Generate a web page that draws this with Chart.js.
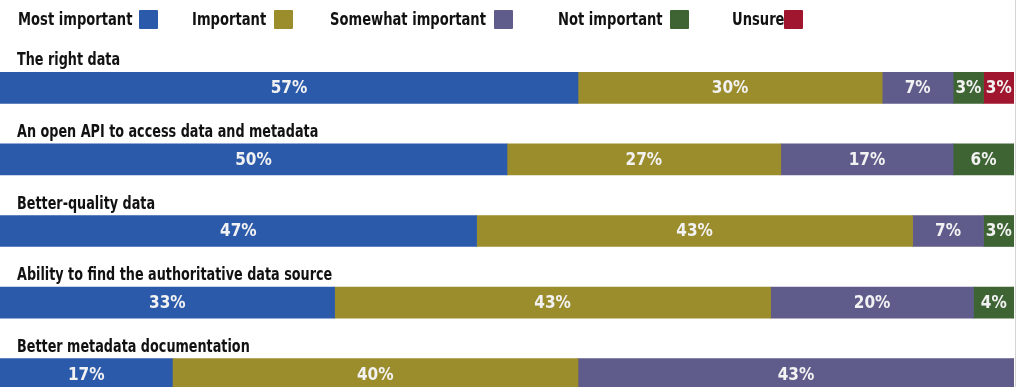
<!DOCTYPE html>
<html>
<head>
<meta charset="utf-8">
<script src="https://cdn.jsdelivr.net/npm/chart.js@4/dist/chart.umd.min.js"></script>
<style>
  html, body { margin: 0; padding: 0; background: #fff; overflow: hidden; }
  body { width: 1025px; height: 387px; position: relative; font-family: "Liberation Sans Narrow", "DejaVu Sans Condensed", sans-serif; }
  #wrap { position: absolute; left: 0; top: 0; width: 1025px; height: 410px; }
  #legend { position: absolute; left: 0; top: 0; height: 38px; width: 1025px; z-index: 2; }
  .txt { position: absolute; top: 8px; font-weight: bold; font-size: 18px; color: #111; white-space: nowrap; line-height: 22px; transform: scaleX(0.81); transform-origin: 0 0; }
  .box { position: absolute; top: 10px; width: 19px; height: 19px; border-radius: 1px; }
  #rule { position: absolute; left: 1015px; top: 0; width: 1px; height: 387px; background: #d4d4d4; }
</style>
</head>
<body>
<div id="legend"></div>
<div id="rule"></div>
<div id="wrap"><canvas id="myChart"></canvas></div>
<script>
const categories = [
    'The right data',
    'An open API to access data and metadata',
    'Better-quality data',
    'Ability to find the authoritative data source',
    'Better metadata documentation'
];
const seriesNames = ['Most important', 'Important', 'Somewhat important', 'Not important', 'Unsure'];
const mostImportant = [57, 50, 47, 33, 17];
const important = [30, 27, 43, 43, 40];
const somewhatImportant = [7, 17, 7, 20, 43];
const notImportant = [3, 6, 3, 4, 0];
const unsure = [3, 0, 0, 0, 0];
const colors = ['#2b5aab', '#9b8c2c', '#5f5b8b', '#3e6434', '#a0162f'];

const legendLeft = [18, 192, 330, 558, 732];
const boxLeft = [139, 274, 494, 670, 784];

const legend = document.getElementById('legend');
seriesNames.forEach((name, i) => {
    const t = document.createElement('div');
    t.className = 'txt';
    t.style.left = legendLeft[i] + 'px';
    t.textContent = name;
    legend.appendChild(t);
    const b = document.createElement('div');
    b.className = 'box';
    b.style.left = boxLeft[i] + 'px';
    b.style.background = colors[i];
    legend.appendChild(b);
});

const FONT = '"Liberation Sans Narrow", "DejaVu Sans Condensed", sans-serif';
const SQUEEZE = 0.79;

// category names above each bar, percentages inside segments
const labelPlugin = {
    id: 'labels',
    afterDatasetsDraw(chart) {
        const c = chart.ctx;
        const first = chart.getDatasetMeta(0);
        c.save();
        c.fillStyle = '#111';
        c.font = 'bold 18px ' + FONT;
        c.textAlign = 'left';
        c.textBaseline = 'alphabetic';
        c.scale(SQUEEZE, 1);
        first.data.forEach((bar, i) => {
            c.fillText(categories[i], 17 / SQUEEZE, bar.y - bar.height / 2 - 7);
        });
        c.restore();

        c.save();
        c.fillStyle = '#f2f2f2';
        c.font = 'bold 17px ' + FONT;
        c.textAlign = 'center';
        c.textBaseline = 'middle';
        chart.data.datasets.forEach((ds, d) => {
            const meta = chart.getDatasetMeta(d);
            meta.data.forEach((bar, i) => {
                const v = ds.data[i];
                if (!v) return;
                c.fillText(v + '%', (bar.x + bar.base) / 2, bar.y + 1);
            });
        });
        c.restore();
    }
};

const seriesData = [mostImportant, important, somewhatImportant, notImportant, unsure];

new Chart(document.getElementById('myChart'), {
    type: 'bar',
    data: {
        labels: categories,
        datasets: seriesNames.map((name, i) => ({
            label: name,
            data: seriesData[i],
            backgroundColor: colors[i],
            borderWidth: 0,
            barThickness: 31
        }))
    },
    options: {
        indexAxis: 'y',
        responsive: true,
        maintainAspectRatio: false,
        animation: false,
        layout: { padding: { top: 52, left: 0, right: 11, bottom: 0 } },
        scales: {
            x: { stacked: true, min: 0, max: 100, display: false },
            y: { stacked: true, display: false }
        },
        plugins: {
            legend: { display: false },
            tooltip: { enabled: false }
        }
    },
    plugins: [labelPlugin]
});
</script>
</body>
</html>
